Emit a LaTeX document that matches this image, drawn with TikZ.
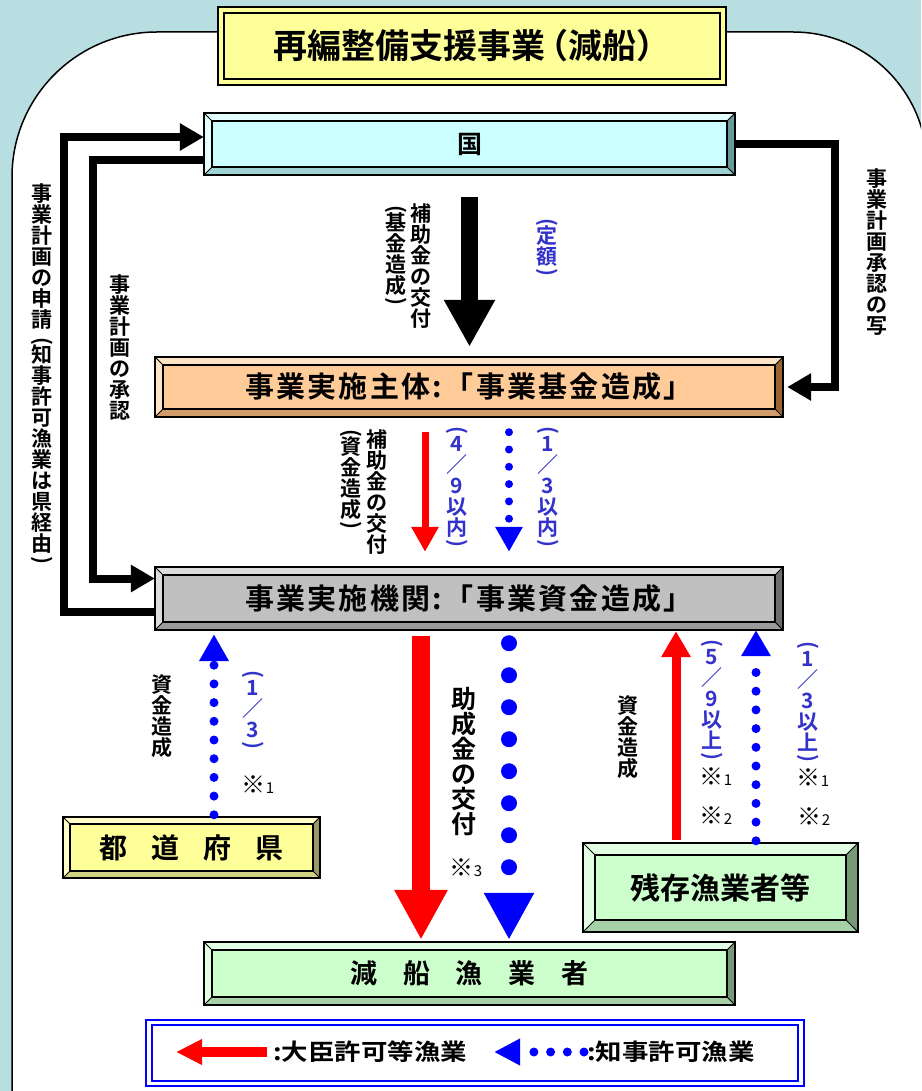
\documentclass[tikz,border=0pt]{standalone}
\usepackage{graphicx}
\usepackage{fontspec}
\setmainfont{Noto Sans CJK JP}[BoldFont={Noto Sans CJK JP Bold}]
\usetikzlibrary{arrows.meta,fit,positioning}

\definecolor{bgblue}{RGB}{185,222,225}
\definecolor{ratioblue}{RGB}{51,51,204}
\definecolor{titleyellow}{RGB}{255,255,153}
\definecolor{kunicyan}{RGB}{204,255,255}
\definecolor{kunidark}{RGB}{102,153,153}
\definecolor{shutaiorange}{RGB}{255,204,153}
\definecolor{shutaidark}{RGB}{153,102,51}
\definecolor{kikangray}{RGB}{192,192,192}
\definecolor{kikandark}{RGB}{110,110,110}
\definecolor{prefyellow}{RGB}{255,255,153}
\definecolor{prefdark}{RGB}{153,153,102}
\definecolor{fisherygreen}{RGB}{204,255,204}
\definecolor{fisherydark}{RGB}{119,153,119}

% vertical (tategaki) text: one character per line
\makeatletter
\newcommand\kakkoO{}
\newcommand\kakkoC{}
\def\tate@open{\kakkoO}
\def\tate@close{\kakkoC}
\newcommand\tate[1]{\vbox{\baselineskip=1.0em\lineskiplimit=-2em\lineskip=0pt
  \@tfor\tate@c:=#1\do{%
    \ifx\tate@c\tate@open\hbox to 1.1em{\hss\rotatebox[origin=c]{-90}{(}\hss}\vskip-.3em
    \else\ifx\tate@c\tate@close\vskip-.3em\hbox to 1.1em{\hss\rotatebox[origin=c]{-90}{)}\hss}%
    \else\hbox to 1.1em{\hss\tate@c\hss}\fi\fi}}}
\makeatother

\newcommand\nt[1]{※{\fontsize{15}{15}\selectfont #1}}

% bevelled box: [bevel] name, x1, y1, x2, y2, face colour, shade colour
\newcommand\bevelbox[8][8]{%
  \fill[#7] (#3,#4) rectangle (#5,#6);
  \fill[#7!55!white] (#3,#4) -- (#5,#4) -- (#5-#1,#4+#1) -- (#3+#1,#4+#1)
    -- (#3+#1,#6-#1) -- (#3,#6) -- cycle;
  \fill[#8] (#5,#4) -- (#5,#6) -- (#5-#1,#6-#1) -- (#5-#1,#4+#1) -- cycle;
  \fill[#8!45!#7] (#3,#6) -- (#5,#6) -- (#5-#1,#6-#1) -- (#3+#1,#6-#1) -- cycle;
  \draw[bevel line] (#3,#4) rectangle (#5,#6) (#3+#1,#4+#1) rectangle (#5-#1,#6-#1);
  \draw[bevel edge] (#3,#4) -- ++(#1,#1) (#5,#4) -- ++(-#1,#1)
    (#3,#6) -- ++(#1,-#1) (#5,#6) -- ++(-#1,-#1);
  \node[fit={(#3,#4) (#5,#6)},inner sep=0pt] (#2) {};
}

\tikzset{
  bevel line/.style={line width=2pt,black},
  bevel edge/.style={line width=1pt,black},
  box text/.style={font=\bfseries\fontsize{29}{31}\selectfont\addfontfeature{LetterSpace=8}},
  vlabel/.style={font=\bfseries\fontsize{21}{21}\selectfont,inner sep=0pt},
  ratio label/.style={vlabel,text=ratioblue},
  note/.style={font=\fontsize{24}{24}\selectfont,inner sep=0pt},
  plan line/.style={line width=8pt,line join=miter,-{Triangle[width=26pt,length=24pt]}},
  grant arrow/.style={line width=17pt,-{Triangle[width=48pt,length=47pt]}},
  major arrow/.style={red,line width=7pt,-{Triangle[width=26pt,length=25pt]}},
  pref arrow/.style={blue,line width=8pt,line cap=round,dash pattern=on 0pt off 17.3pt,
    -{Triangle[width=26pt,length=25pt]}},
  legend text/.style={font=\bfseries\fontsize{23}{25}\selectfont\addfontfeature{FakeStretch=1.15},
    inner sep=0pt,anchor=west}
}

\begin{document}
\begin{tikzpicture}[x=1pt,y=-1pt]

  % canvas and white panel
  \useasboundingbox (0,0) rectangle (921,1091);
  \clip (0,0) rectangle (921,1091);
  \fill[bgblue] (0,0) rectangle (921,1091);
  \filldraw[fill=white,draw=black,line width=1.5pt] (12,1100) -- (12,177)
    arc[start angle=180,end angle=90,radius=145pt] -- (793,32)
    arc[start angle=90,end angle=0,radius=134pt] -- (927,1100) -- cycle;

  % title
  \draw[line width=2.5pt,fill=titleyellow] (218,7) rectangle (726,85);
  \draw[line width=2.5pt] (224,13) rectangle (720,79);
  \node[font=\bfseries\fontsize{34}{36}\selectfont] (title) at (472,46)
    {再編整備支援事業\hspace{-.3em}（減船）\hspace{-.3em}};

  % boxes
  \bevelbox{kuni}{204}{113}{735}{175}{kunicyan}{kunidark}
  \bevelbox{shutai}{155}{357}{783}{417}{shutaiorange}{shutaidark}
  \bevelbox{kikan}{155}{567}{783}{630}{kikangray}{kikandark}
  \bevelbox[7]{pref}{63}{817}{320}{878}{prefyellow}{prefdark}
  \bevelbox[12]{zanson}{583}{843}{858}{932}{fisherygreen}{fisherydark}
  \bevelbox{gensen}{204}{942}{735}{1005}{fisherygreen}{fisherydark}

  \node[box text,font=\bfseries\fontsize{25}{27}\selectfont] (kuni-t) at (kuni) {国};
  \node[box text] (shutai-t) at (shutai) {事業実施主体:「事業基金造成」};
  \node[box text] (kikan-t) at (kikan) {事業実施機関:「事業資金造成」};
  \node[font=\bfseries\fontsize{28}{30}\selectfont] (pref-t) at (pref)
    {都\hspace{0.85em}道\hspace{0.85em}府\hspace{0.85em}県};
  \node[font=\bfseries\fontsize{30}{32}\selectfont] (zanson-t) at (zanson) {残存漁業者等};
  \node[font=\bfseries\fontsize{27}{29}\selectfont] (gensen-t) at (gensen)
    {減\hspace{0.95em}船\hspace{0.95em}漁\hspace{0.95em}業\hspace{0.95em}者};

  % plan approval loops
  \draw[plan line] ([yshift=-13pt]kikan.west) -- ++(-91,0) |- ([yshift=7pt]kuni.west);
  \draw[plan line] ([yshift=-16pt]kuni.west) -- ++(-111,0) |- ([yshift=20pt]kikan.west);
  \draw[plan line,shorten >=4pt] (kuni.east) -- ++(100,0) |- (shutai.east);

  % money flow
  \draw[grant arrow,shorten <=22pt,shorten >=10pt] (kuni.south) -- (kuni.south |- shutai.north);
  \draw[major arrow,shorten <=15pt,shorten >=15pt] ([xshift=-44pt]shutai.south) -- ([xshift=-44pt]kikan.north);
  \draw[pref arrow,shorten <=15pt,shorten >=15pt] ([xshift=40pt]shutai.south) -- ([xshift=40pt]kikan.north);
  \draw[pref arrow,line width=9pt,dash pattern=on 0pt off 18.7pt,
    -{Triangle[width=28pt,length=27pt]},shorten <=2pt,shorten >=4pt]
    ([xshift=22.5pt]pref.north) -- ([xshift=22.5pt]pref.north |- kikan.south);
  \draw[major arrow,line width=18pt,-{Triangle[width=50pt,length=50pt]},shorten <=6pt,shorten >=2pt]
    ([xshift=-48pt]kikan.south) -- ([xshift=-48pt]kikan.south |- gensen.north);
  \draw[pref arrow,line width=16pt,dash pattern=on 0pt off 32pt,
    -{Triangle[width=47pt,length=47pt]},shorten <=13pt,shorten >=2pt]
    ([xshift=40pt]kikan.south) -- ([xshift=40pt]kikan.south |- gensen.north);
  \draw[major arrow,line width=9pt,-{Triangle[width=28pt,length=26pt]},shorten <=3pt,shorten >=1pt]
    ([xshift=-44.5pt]zanson.north) -- ([xshift=-44.5pt]zanson.north |- kikan.south);
  \draw[pref arrow,line width=9pt,dash pattern=on 0pt off 18.7pt,
    -{Triangle[width=28pt,length=26pt]},shorten <=2pt,shorten >=0pt]
    ([xshift=35.5pt]zanson.north) -- ([xshift=35.5pt]zanson.north |- kikan.south);

  % labels
  \node[vlabel] (lbApply) at (42,375) {\tate{事業計画の申請\kakkoO 知事許可漁業は県経由\kakkoC}};
  \node[vlabel] (lbApprove) at (120,347) {\tate{事業計画の承認}};
  \node[vlabel] (lbCopy) at (877,252) {\tate{事業計画承認の写}};
  \node[vlabel] (lbGrantA) at (421,266) {\tate{補助金の交付}};
  \node[vlabel] (lbFundA) at (396,257) {\tate{\kakkoO 基金造成\kakkoC}};
  \node[ratio label] (lbFixed) at (547,249) {\tate{\kakkoO 定額\kakkoC}};
  \node[vlabel] (lbGrantB) at (377,492) {\tate{補助金の交付}};
  \node[vlabel] (lbFundB) at (351,481) {\tate{\kakkoO 資金造成\kakkoC}};
  \node[ratio label] (lbMajorA) at (457,488) {\tate{\kakkoO 4／9以内\kakkoC}};
  \node[ratio label] (lbPrefA) at (548,488) {\tate{\kakkoO 1／3以内\kakkoC}};
  \node[vlabel] (lbFundPref) at (162,716) {\tate{資金造成}};
  \node[ratio label] (lbPrefB) at (253,711) {\tate{\kakkoO 1／3\kakkoC}};
  \node[note] (nPref) at (258,785) {\nt1};
  \node[vlabel,font=\bfseries\fontsize{25}{26}\selectfont] (lbAid) at (464,762) {\tate{助成金の交付}};
  \node[note] (nAid) at (466,868) {\nt3};
  \node[vlabel] (lbFundRest) at (628,737) {\tate{資金造成}};
  \node[ratio label] (lbMajorB) at (712,701) {\tate{\kakkoO 5／9以上\kakkoC}};
  \node[note] (nMajor1) at (716,777) {\nt1};
  \node[note] (nMajor2) at (716,816) {\nt2};
  \node[ratio label] (lbPrefC) at (808,703) {\tate{\kakkoO 1／3以上\kakkoC}};
  \node[note] (nPref1) at (813,778) {\nt1};
  \node[note] (nPref2) at (814,817) {\nt2};

  % legend
  \draw[blue,line width=2.5pt,fill=white] (146,1020) rectangle (804,1086);
  \draw[blue,line width=2pt] (152,1025) rectangle (798,1081);
  \coordinate (legRedS) at (267,1052);
  \coordinate (legRedE) at (176,1052);
  \coordinate (legBlueS) at (584,1052);
  \coordinate (legBlueE) at (494,1052);
  \draw[major arrow,line width=10pt,-{Triangle[width=24pt,length=26pt]}] (legRedS) -- (legRedE);
  \draw[pref arrow,line width=9pt,dash pattern=on 0pt off 16.7pt,
    -{Triangle[width=25pt,length=26pt]}] (legBlueS) -- (legBlueE);
  \node[legend text,right=6pt of legRedS] (legRedT) {:大臣許可等漁業};
  \node[legend text,right=3pt of legBlueS] (legBlueT) {:知事許可漁業};

\end{tikzpicture}
\end{document}
